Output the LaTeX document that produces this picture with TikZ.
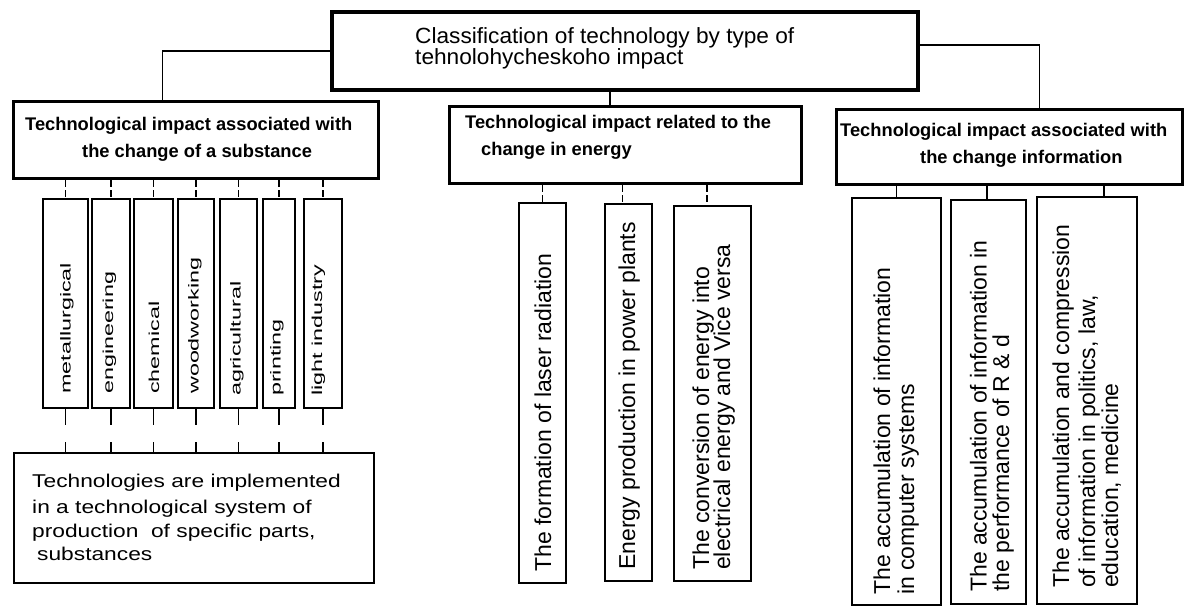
\documentclass[tikz,border=0pt]{standalone}
\usepackage{fontspec}
\setmainfont{Liberation Sans}
\newfontfamily\widefont[FakeStretch=1.23]{Liberation Sans}
\newfontfamily\tallfont[FakeStretch=1.62]{Liberation Sans}
\newfontfamily\titlefont[FakeStretch=1.03]{Liberation Sans}
\begin{document}
\begin{tikzpicture}[x=1pt,y=-1pt,
  box/.style={draw, anchor=north west, inner sep=0pt},
  topbox/.style={box, line width=3.5pt},
  headbox/.style={box, line width=3pt},
  leafbox/.style={box, line width=2pt},
  txt/.style={anchor=base west, inner sep=0pt},
  rtxt/.style={txt, rotate=90},
  conn/.style={line width=1.5pt},
  dconn/.style={conn, dash pattern=on 7pt off 3pt},
  gapconn/.style={conn, dash pattern=on 16pt off 17pt},
  titlef/.style={font=\titlefont\fontsize{22}{24}\selectfont},
  headf/.style={font=\bfseries\fontsize{18.3}{20}\selectfont},
  bottomf/.style={font=\widefont\fontsize{18.5}{20}\selectfont},
  wordf/.style={font=\tallfont\fontsize{14.4}{16}\selectfont},
  leaff/.style={font=\fontsize{23}{25}\selectfont}
]
\fill[white] (0,0) rectangle (1185,606);
\useasboundingbox (0,0) rectangle (1185,606);

% boxes
\node[topbox, minimum width=586pt, minimum height=78pt] (top) at (330,10) {};
\node[headbox, minimum width=365pt, minimum height=77pt] (b1) at (12,100) {};
\node[headbox, minimum width=352pt, minimum height=77pt] (b2) at (448,105) {};
\node[headbox, minimum width=346pt, minimum height=75pt] (b3) at (835,108) {};

\node[leafbox, minimum width=45pt, minimum height=209pt] (s1) at (42,198) {};
\node[leafbox, minimum width=38pt, minimum height=209pt] (s2) at (91,198) {};
\node[leafbox, minimum width=39pt, minimum height=209pt] (s3) at (133,198) {};
\node[leafbox, minimum width=36pt, minimum height=209pt] (s4) at (177,198) {};
\node[leafbox, minimum width=37pt, minimum height=209pt] (s5) at (219,198) {};
\node[leafbox, minimum width=32pt, minimum height=209pt] (s6) at (262,198) {};
\node[leafbox, minimum width=38pt, minimum height=209pt] (s7) at (303,198) {};
\node[leafbox, minimum width=360pt, minimum height=130pt] (bot) at (13,452) {};

\node[leafbox, minimum width=47pt, minimum height=380pt] (e1) at (518,202) {};
\node[leafbox, minimum width=47pt, minimum height=377pt] (e2) at (604,203) {};
\node[leafbox, minimum width=77pt, minimum height=375pt] (e3) at (673,205) {};

\node[leafbox, minimum width=89pt, minimum height=407pt] (i1) at (851,197) {};
\node[leafbox, minimum width=75pt, minimum height=404pt] (i2) at (950,199) {};
\node[leafbox, minimum width=100pt, minimum height=407pt] (i3) at (1036,196) {};

% connectors
\draw[conn] (top.west) -| ([xshift=-33.5pt]b1.north);
\draw[conn] ([yshift=6pt]top.east) -| ([xshift=30pt]b3.north);
\draw[conn] ([xshift=-15pt]top.south) -- ([xshift=-15pt]top.south |- b2.north);

\foreach \s in {s1,s2,s3,s4,s5,s6,s7}{
  \draw[dconn] (b1.south -| \s.north) -- (\s.north);
  \draw[gapconn] (\s.south) -- (\s.south |- bot.north);
}
\draw[dconn] (b2.south -| e1.north) -- (e1.north);
\draw[dconn] ([xshift=-6pt]e2.north |- b2.south) -- ([xshift=-6pt]e2.north);
\draw[dconn] ([xshift=-5.5pt]e3.north |- b2.south) -- ([xshift=-5.5pt]e3.north);
\draw[conn] (b3.south -| i1.north) -- (i1.north);
\draw[conn] ([xshift=-1.5pt]i2.north |- b3.south) -- ([xshift=-1.5pt]i2.north);
\draw[conn] ([xshift=17pt]i3.north |- b3.south) -- ([xshift=17pt]i3.north);

% title
\node[txt, titlef] (t1) at (415,43) {Classification of technology by type of};
\node[txt, titlef] (t2) at (415,64.5) {tehnolohycheskoho impact};

% headings
\node[txt, headf] (h11) at (25,130) {Technological impact associated with};
\node[txt, headf] (h12) at (82,157) {the change of a substance};
\node[txt, headf] (h21) at (465,128) {Technological impact related to the};
\node[txt, headf] (h22) at (481,155) {change in energy};
\node[txt, headf] (h31) at (840,136) {Technological impact associated with};
\node[txt, headf] (h32) at (920,163) {the change information};

% substance words
\node[rtxt, wordf] (w1) at (70.5,394) {metallurgical};
\node[rtxt, wordf] (w2) at (113,394) {engineering};
\node[rtxt, wordf] (w3) at (159,394) {chemical};
\node[rtxt, wordf] (w4) at (198.5,394) {woodworking};
\node[rtxt, wordf] (w5) at (240.5,396) {agricultural};
\node[rtxt, wordf] (w6) at (280.5,396) {printing};
\node[rtxt, wordf] (w7) at (322,396) {light industry};

% bottom box text
\node[txt, bottomf] (p1) at (32,487) {Technologies are implemented};
\node[txt, bottomf] (p2) at (32,513) {in a technological system of};
\node[txt, bottomf] (p3) at (32,537) {production\ \ of specific parts,};
\node[txt, bottomf] (p4) at (37,560) {substances};

% energy texts
\node[rtxt, leaff] (x1) at (551,572) {The formation of laser radiation};
\node[rtxt, leaff] (x2) at (635,570) {Energy production in power plants};
\node[rtxt, leaff] (x31) at (709,570) {The conversion of energy into};
\node[rtxt, leaff] (x32) at (730,570) {electrical energy and Vice versa};

% information texts
\node[rtxt, leaff] (y11) at (890,595) {The accumulation of information};
\node[rtxt, leaff] (y12) at (914,595) {in computer systems};
\node[rtxt, leaff] (y21) at (986.5,592) {The accumulation of information in};
\node[rtxt, leaff] (y22) at (1009,592) {the performance of R \& d};
\node[rtxt, leaff] (y31) at (1069,588) {The accumulation and compression};
\node[rtxt, leaff] (y32) at (1095,588) {of information in politics, law,};
\node[rtxt, leaff] (y33) at (1118,588) {education, medicine};
\end{tikzpicture}
\end{document}
